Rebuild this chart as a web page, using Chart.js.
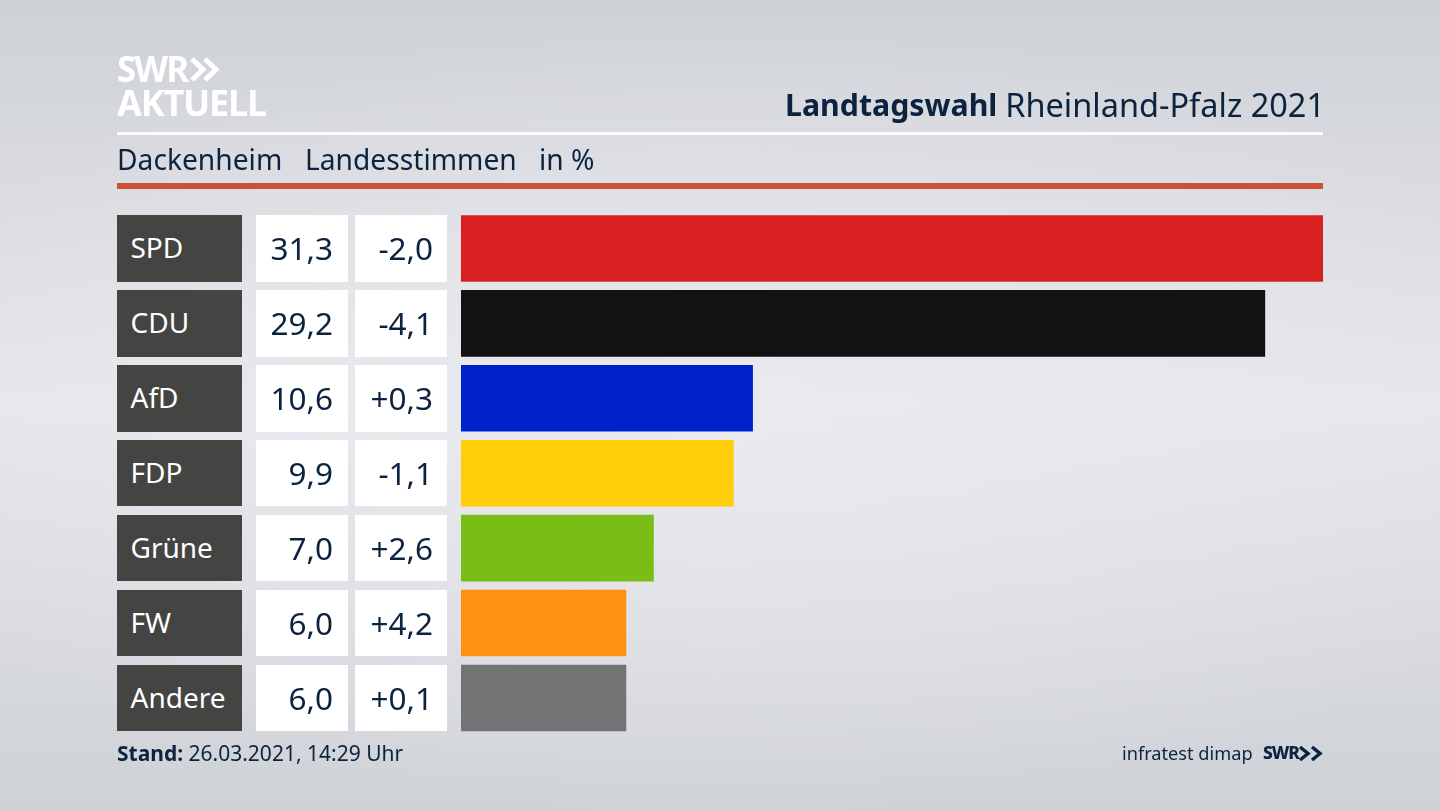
<!DOCTYPE html>
<html lang="de"><head><meta charset="utf-8">
<style>
html,body{margin:0;padding:0;width:1440px;height:810px;overflow:hidden}
body{position:relative;font-family:"Noto Sans",sans-serif;color:#0c2340;
background:radial-gradient(ellipse 900px 400px at 720px 420px,rgba(234,235,240,.8) 0%,rgba(234,235,240,0) 100%),linear-gradient(180deg,#ced1d6 0%,#e6e7eb 50%,#ced1d6 100%)}
#wrap{position:absolute;left:0;top:0;width:1440px;height:810px}
.t{position:absolute;white-space:nowrap;line-height:1}
.rule{position:absolute;left:117px;width:1206px}
.cell{position:absolute;box-sizing:border-box;display:flex;align-items:center;line-height:1}
.lab{left:117px;width:124.5px;padding-left:13.5px;padding-bottom:2px;color:#fff;font-size:28px;background:#444442}
.val{left:256px;width:92px;background:#fff;justify-content:flex-end;padding-right:15px;padding-bottom:1px;font-size:31.5px}
.dif{left:355px;width:92px;background:#fff;justify-content:flex-end;padding-right:14px;padding-bottom:1px;font-size:31.5px}
svg{position:absolute;overflow:visible}
</style></head><body>
<div id="wrap"><canvas id="c" width="1440" height="810"></canvas></div>
<div class="t" style="left:117px;top:51px;font-size:35px;font-weight:700;color:#fff;letter-spacing:-2px">SWR</div>
<svg style="left:190px;top:57px" width="30" height="25" fill="none" stroke="#fff" stroke-width="5"><path d="M2 2l11 10.500l-11 10.500M15 2l11 10.500l-11 10.500"/></svg>
<div class="t" style="left:117px;top:85px;font-size:36px;font-weight:700;color:#fff;letter-spacing:-1.2px">AKTUELL</div>
<div class="t" style="left:785px;top:90px;font-size:30.3px;font-weight:700">Landtagswahl</div>
<div class="t" style="right:115px;top:89px;font-size:32.5px">Rheinland-Pfalz 2021</div>
<div class="rule" style="top:132px;height:3px;background:#fff"></div>
<div class="t" style="left:117px;top:145px;font-size:28.2px">Dackenheim</div>
<div class="t" style="left:305px;top:145px;font-size:28.2px">Landesstimmen</div>
<div class="t" style="left:539px;top:145px;font-size:28.2px">in %</div>
<div class="rule" style="top:183px;height:6px;background:#cd5138"></div>
<div class="t" style="left:117px;top:743px;font-size:21px"><b>Stand:</b> 26.03.2021, 14:29 Uhr</div>
<div class="t" style="left:1122px;top:744px;font-size:18.2px">infratest dimap</div>
<div class="t" style="left:1263px;top:744px;font-size:17.5px;font-weight:800;letter-spacing:-1px">SWR</div>
<svg style="left:1299px;top:746px" width="24" height="15" fill="none" stroke="#0c2340" stroke-width="3.500"><path d="M1 1l8 6.500l-8 6.500M13 1l8 6.500l-8 6.500"/></svg>
<script src="https://cdn.jsdelivr.net/npm/chart.js@4"></script>
<script>
const parties=["SPD","CDU","AfD","FDP","Grüne","FW","Andere"];
const shares=[31.3,29.2,10.6,9.9,7.0,6.0,6.0];
const changes=["-2,0","-4,1","+0,3","-1,1","+2,6","+4,2","+0,1"];
const shareLabels=["31,3","29,2","10,6","9,9","7,0","6,0","6,0"];
const barColors=["#d7201f","#121212","#0021c7","#ffce08","#7abd17","#ff9012","#727375"];

const rowsPlugin={id:"rows",afterRender(chart){
  if(chart.$rowsDone)return;chart.$rowsDone=true;
  const y=chart.scales.y,h=66.5;
  parties.forEach((p,i)=>{
    const top=y.getPixelForValue(i)-h/2;
    [["lab",p],["val",shareLabels[i]],["dif",changes[i]]].forEach(([cls,txt])=>{
      const d=document.createElement("div");
      d.className="cell "+cls;d.textContent=txt;
      d.style.top=top+"px";d.style.height=h+"px";
      document.body.appendChild(d);
    });
  });
}};
new Chart(document.getElementById("c"),{
  type:"bar",
  data:{labels:parties,datasets:[{data:shares,backgroundColor:barColors,borderWidth:0,barPercentage:0.888,categoryPercentage:1}]},
  options:{indexAxis:"y",responsive:false,animation:false,devicePixelRatio:1,
    layout:{padding:{left:461,right:117,top:211,bottom:74.6}},
    plugins:{legend:{display:false},tooltip:{enabled:false}},
    scales:{x:{display:false,min:0,max:31.3},y:{display:false}}},
  plugins:[rowsPlugin]
});
</script>
</body></html>
